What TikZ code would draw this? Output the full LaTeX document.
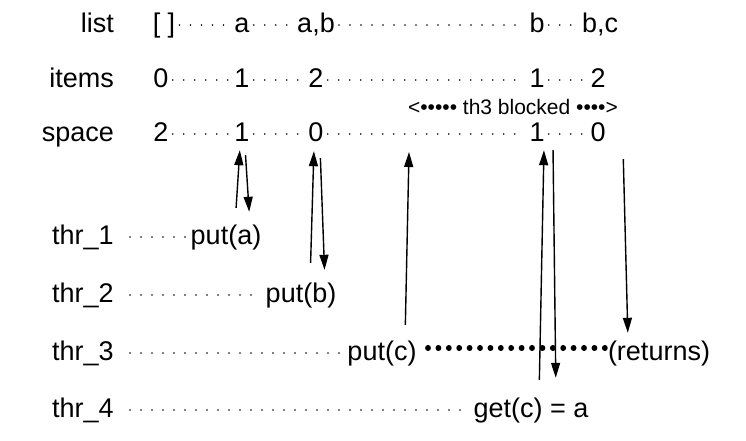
\documentclass[tikz,border=0pt]{standalone}
\usepackage{fontspec}
\setmainfont{Liberation Sans}
\usetikzlibrary{arrows.meta}

\begin{document}
\begin{tikzpicture}[x=1pt,y=-1pt,
		txt/.style={font=\fontsize{27}{31}\selectfont, inner ysep=0pt, inner xsep=4pt,
			text height=19pt, text depth=6pt, anchor=base},
		lbl/.style={txt, inner xsep=0pt, anchor=base east},
		thr/.style={txt, inner xsep=0pt, anchor=base west},
		small dots/.style={line width=1.8pt, line cap=round, dash pattern=on 0pt off 11pt},
		big dots/.style={line width=5.2pt, line cap=round, dash pattern=on 0.6pt off 9.8pt},
		flow/.style={line width=1.4pt, -{Triangle[length=15pt,width=9pt]}}]
		\useasboundingbox (0,0) rectangle (746,440);

		% State rows
		\node[lbl] (list) at (114,32) {list};
		\node[lbl] (items) at (114,87) {items};
		\node[lbl] (space) at (114,141) {space};

		\node[txt] (l1) at (164,32) {[ ]};
		\node[txt] (l2) at (242,32) {a};
		\node[txt] (l3) at (316,32) {a,b};
		\node[txt] (l4) at (537,32) {b};
		\node[txt] (l5) at (600,32) {b,c};

		\node[txt] (i1) at (161,87) {0};
		\node[txt] (i2) at (242,87) {1};
		\node[txt] (i3) at (316,87) {2};
		\node[txt] (i4) at (537,87) {1};
		\node[txt] (i5) at (598,87) {2};

		\node[txt] (s1) at (161,141) {2};
		\node[txt] (s2) at (242,141) {1};
		\node[txt] (s3) at (316,141) {0};
		\node[txt] (s4) at (537,141) {1};
		\node[txt] (s5) at (598,141) {0};

		\foreach \a/\b in {l1/l2,l2/l3,l3/l4,l4/l5,i1/i2,i2/i3,i3/i4,i4/i5,s1/s2,s2/s3,s3/s4,s4/s5}
			\draw[small dots] ([yshift=7pt]\a.base east) -- ([yshift=7pt]\b.base west);

		\node[font=\fontsize{21}{25}\selectfont, anchor=base] (blk) at (513,114) {<••••• th3 blocked ••••>};

		% Threads
		\node[thr] (t1) at (52,244) {thr\_1};
		\node[thr] (t2) at (52,302) {thr\_2};
		\node[thr] (t3) at (52,360) {thr\_3};
		\node[thr] (t4) at (52,417) {thr\_4};

		\node[txt] (pa) at (226,244) {put(a)};
		\node[txt] (pb) at (301,302) {put(b)};
		\node[txt] (pc) at (382,360) {put(c)};
		\node[txt] (ret) at (659,360) {(returns)};
		\node[txt] (gc) at (531,417) {get(c) = a};

		\foreach \a/\b in {t1/pa,t2/pb,t3/pc,t4/gc}
			\draw[small dots, shorten <=16pt] ([yshift=7pt]\a.base east) -- ([yshift=7pt]\b.base west);
		\draw[big dots, shorten <=7pt, shorten >=-3pt] ([yshift=12pt]pc.base east) -- ([yshift=12pt]ret.base west);

		% Calls
		\coordinate (wait) at (409,152);
		\draw[flow, shorten <=17pt, shorten >=3pt] ([xshift=9pt]pa.north) -- ([xshift=-2pt]s2.south);
		\draw[flow, shorten <=8pt, shorten >=13pt] ([xshift=3pt]s2.south) -- ([xshift=24pt]pa.north);
		\draw[flow, shorten <=20pt, shorten >=4pt] ([xshift=9pt]pb.north) -- ([xshift=-2pt]s3.south);
		\draw[flow, shorten <=11pt, shorten >=13pt] ([xshift=4pt]s3.south) -- ([xshift=24pt]pb.north);
		\draw[flow, shorten <=16pt] ([xshift=23pt]pc.north) -- (wait);
		\draw[flow, shorten <=18pt, shorten >=3pt] ([xshift=8pt]gc.north) -- ([xshift=7pt]s4.south);
		\draw[flow, shorten <=3pt, shorten >=20pt] ([xshift=16pt]s4.south) -- ([xshift=25pt]gc.north);
		\draw[flow, shorten <=12pt, shorten >=8pt] ([xshift=25pt]s5.south) -- ([xshift=-31pt]ret.north);
	\end{tikzpicture}
\end{document}
